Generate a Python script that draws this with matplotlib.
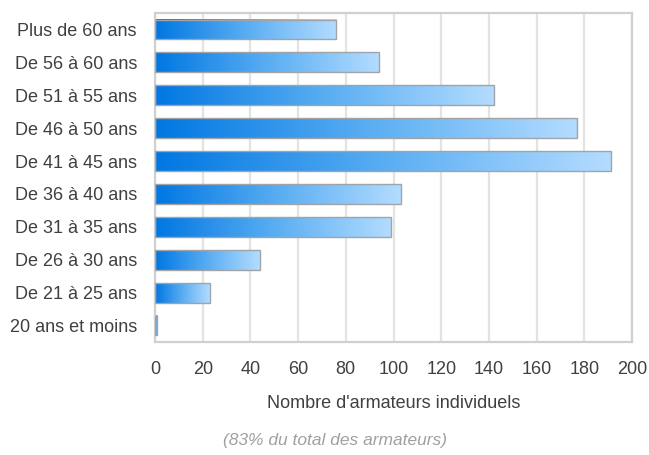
import numpy as np
import matplotlib.pyplot as plt
from matplotlib.colors import LinearSegmentedColormap

# data
categories = ['Plus de 60 ans', 'De 56 à 60 ans', 'De 51 à 55 ans', 'De 46 à 50 ans',
              'De 41 à 45 ans', 'De 36 à 40 ans', 'De 31 à 35 ans', 'De 26 à 30 ans',
              'De 21 à 25 ans', '20 ans et moins']
values = [76, 94, 142, 177, 191, 103, 99, 44, 23, 1]
xticks = [0, 20, 40, 60, 80, 100, 120, 140, 160, 180, 200]

plt.rcParams['font.family'] = ['Liberation Sans', 'DejaVu Sans']

fig = plt.figure(figsize=(6.49, 4.55), dpi=100)
ax = fig.add_axes([155 / 649, 1 - 342 / 455, 477 / 649, 329 / 455])

cmap = LinearSegmentedColormap.from_list('bar', ['#0077e2', '#59adf2', '#b3dcff'])
grad = np.linspace(0, 1, 256).reshape(1, -1)
ypos = np.arange(len(categories))[::-1]
h = 0.6

bars = ax.barh(ypos, values, height=h, color='none', edgecolor='#a0a4a8', linewidth=1, zorder=3)
for b, v in zip(bars, values):
    y0 = b.get_y()
    ax.imshow(grad, cmap=cmap, aspect='auto', extent=[0, v, y0, y0 + h], zorder=2,
              interpolation='bicubic')

ax.set_xlim(0, 200)
ax.set_ylim(-0.5, len(categories) - 0.5)
ax.set_xticks(xticks)
ax.set_yticks(ypos)
ax.set_yticklabels(categories)
ax.xaxis.grid(True, color='#e3e3e3', linewidth=1.6, zorder=0)
ax.set_axisbelow(True)
ax.tick_params(length=0, labelsize=13, colors='#404040')
ax.tick_params(axis='x', pad=14)
ax.tick_params(axis='y', pad=13)
for s in ax.spines.values():
    s.set_color('#d0d0d0')
    s.set_linewidth(1.6)

ax.set_xlabel("Nombre d'armateurs individuels", fontsize=13, color='#404040', labelpad=12)
fig.text(335 / 649, 1 - 441 / 455, '(83% du total des armateurs)', ha='center', va='center',
         fontsize=12.5, style='italic', color='#a0a0a0')

fig.savefig('out.png', dpi=100)
